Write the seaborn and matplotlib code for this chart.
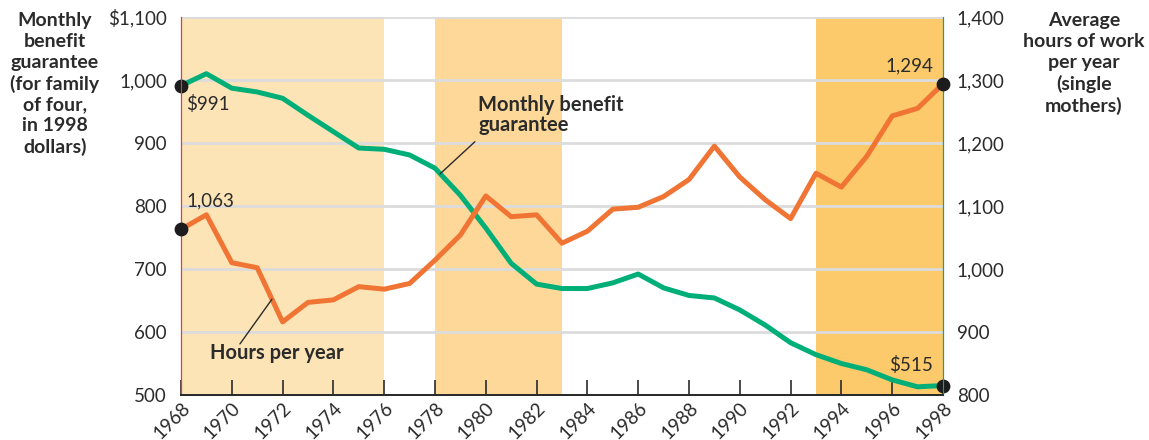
import matplotlib
matplotlib.use("Agg")
import matplotlib.pyplot as plt
import seaborn as sns

# --- DATA ---
years = list(range(1968, 1999))
benefit = [991, 1010, 987, 981, 971, 944, 918, 892, 890, 881, 860, 817, 765, 709, 676,
           669, 669, 678, 692, 670, 658, 654, 635, 611, 583, 564, 550, 540, 524, 513, 515]
hours = [1063, 1086, 1010, 1002, 916, 947, 951, 972, 968, 977, 1014, 1054, 1116, 1083, 1086,
         1041, 1060, 1095, 1098, 1115, 1142, 1195, 1146, 1110, 1080, 1152, 1130, 1179, 1243, 1255, 1294]
left_ticks = [500, 600, 700, 800, 900, 1000, 1100]
left_labels = ["500", "600", "700", "800", "900", "1,000", "$1,100"]
right_ticks = [800, 900, 1000, 1100, 1200, 1300, 1400]
right_labels = ["800", "900", "1,000", "1,100", "1,200", "1,300", "1,400"]
shade_spans = [(1968, 1976), (1978, 1983), (1993, 1998)]
shade_colors = ["#FDE4B6", "#FDD899", "#FCCA6A"]

GREEN = "#00AF78"
ORANGE = "#F07535"
TEXT = "#2b2b2b"

sns.set_theme(style="white")
plt.rcParams['font.family'] = ['Lato', 'DejaVu Sans']

fig = plt.figure(figsize=(11.49, 4.40), dpi=100)
ax = fig.add_axes([181 / 1149, 1 - 395 / 440, (943 - 181) / 1149, (395 - 17) / 440])

for (a, b), c in zip(shade_spans, shade_colors):
    ax.axvspan(a, b, color=c, lw=0, zorder=0)

for t in left_ticks[1:]:
    ax.axhline(t, color="#DCDCDC", lw=2, zorder=1)

sns.lineplot(x=years, y=benefit, ax=ax, color=GREEN, lw=3.6, zorder=3)
ax.set_xlim(1968, 1998)
ax.set_ylim(500, 1100)
ax.set_yticks(left_ticks)
ax.set_yticklabels(left_labels)
ax.set_xticks(list(range(1968, 1999, 2)))
ax.set_xticklabels([str(y) for y in range(1968, 1999, 2)], rotation=45,
                   ha="right", rotation_mode="anchor")
ax.tick_params(axis="y", length=0, pad=10, labelsize=13.5, labelcolor=TEXT)
ax.tick_params(axis="x", direction="in", length=10.5, width=1.2, color=TEXT,
               pad=3, labelsize=13.5, labelcolor=TEXT, bottom=True)

ax2 = ax.twinx()
sns.lineplot(x=years, y=hours, ax=ax2, color=ORANGE, lw=3.6, zorder=3)
ax2.set_ylim(800, 1400)
ax2.set_yticks(right_ticks)
ax2.set_yticklabels(right_labels)
ax2.tick_params(axis="y", length=0, pad=10, labelsize=13.5, labelcolor=TEXT)

for a in (ax, ax2):
    a.spines["top"].set_visible(False)
    a.spines["bottom"].set_color(TEXT)
    a.spines["bottom"].set_linewidth(1.4)
    a.spines["left"].set_color("#E8393B")
    a.spines["left"].set_linewidth(0.8)
    a.spines["right"].set_color(GREEN)
    a.spines["right"].set_linewidth(0.8)
    a.set_xlabel("")
    a.set_ylabel("")
    a.grid(False)

# end-point dots and labels
ax.scatter([years[0], years[-1]], [benefit[0], benefit[-1]], s=80, color="#1c1c1c",
           zorder=5, clip_on=False)
ax2.scatter([years[0], years[-1]], [hours[0], hours[-1]], s=80, color="#1c1c1c",
            zorder=5, clip_on=False)
ax.annotate(f"${benefit[0]}", (years[0], benefit[0]), xytext=(4, -7),
            textcoords="offset points", ha="left", va="top", fontsize=13.5, color=TEXT)
ax.annotate(f"${benefit[-1]}", (years[-1], benefit[-1]), xytext=(-7, 8),
            textcoords="offset points", ha="right", va="bottom", fontsize=13.5, color=TEXT)
ax2.annotate(f"{hours[0]:,}", (years[0], hours[0]), xytext=(4, 14),
             textcoords="offset points", ha="left", va="bottom", fontsize=13.5, color=TEXT)
ax2.annotate(f"{hours[-1]:,}", (years[-1], hours[-1]), xytext=(-7, 7),
             textcoords="offset points", ha="right", va="bottom", fontsize=13.5, color=TEXT)

# series callouts
ax.text(1979.7, 976, "Monthly benefit\nguarantee", ha="left", va="top", fontsize=14.5,
        fontweight="bold", color=TEXT, linespacing=1.0)
ax.plot([1979.57, 1978.2], [902, 851], color=TEXT, lw=1, zorder=4)
ax2.text(1969.15, 866, "Hours per year", ha="left", va="center", fontsize=14.5,
         fontweight="bold", color=TEXT)
ax2.plot([1970.32, 1971.58], [881, 952], color=TEXT, lw=1, zorder=4)

# axis titles
fig.text(55 / 1149, 1 - 12 / 440,
         "Monthly\nbenefit\nguarantee\n(for family\nof four,\nin 1998\ndollars)",
         ha="center", va="top", fontsize=14, fontweight="bold", color=TEXT, linespacing=1.27)
fig.text(1084 / 1149, 1 - 12 / 440,
         "Average\nhours of work\nper year\n(single\nmothers)",
         ha="center", va="top", fontsize=14, fontweight="bold", color=TEXT, linespacing=1.27)

fig.savefig("out.png", dpi=100)
